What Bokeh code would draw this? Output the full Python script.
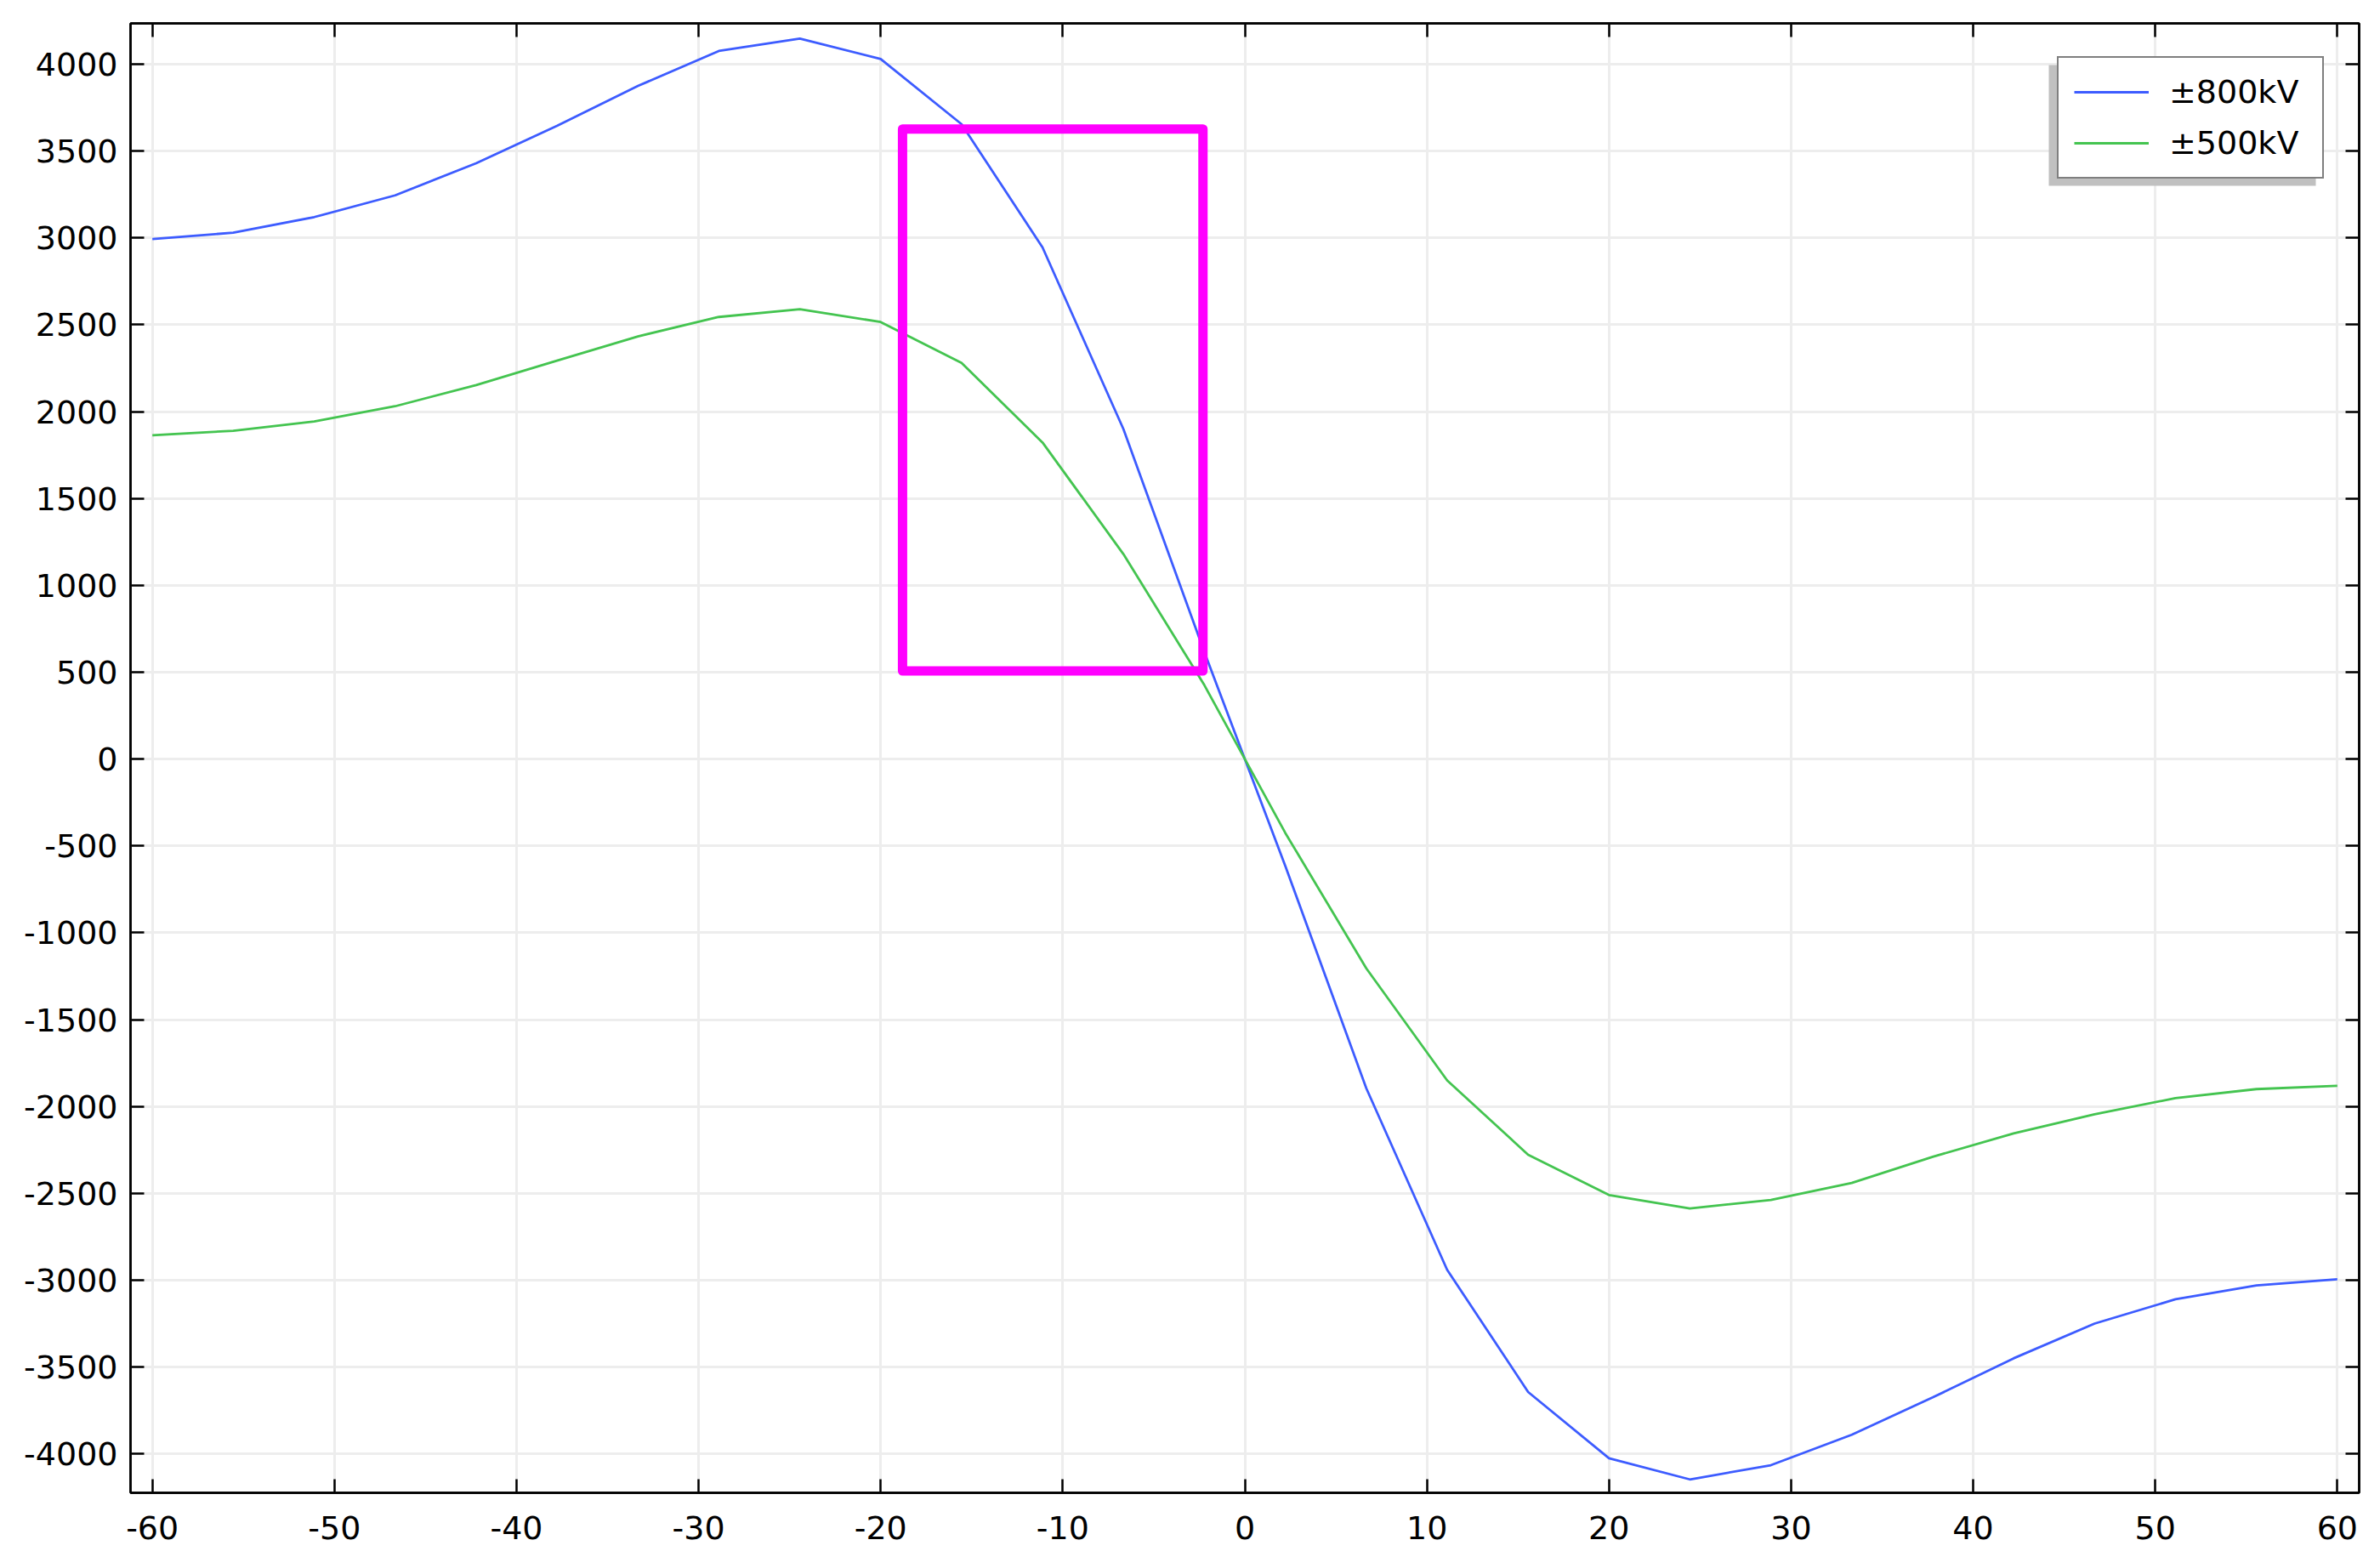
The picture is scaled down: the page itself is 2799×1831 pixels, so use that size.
from bokeh.plotting import figure
from bokeh.models import Range1d, FixedTicker, LinearAxis, Legend, LegendItem, BoxAnnotation
from bokeh.embed import file_html
from bokeh.resources import INLINE

# ---- data ----
x_pos = [-60, -55.56, -51.11, -46.67, -42.22, -37.78, -33.33, -28.89, -24.44, -20,
         -15.56, -11.11, -6.67, -2.22, 2.22, 6.67, 11.11, 15.56, 20, 24.44,
         28.89, 33.33, 37.78, 42.22, 46.67, 51.11, 55.56, 60]
kv800 = [2993, 3030, 3120, 3245, 3430, 3645, 3875, 4076, 4148, 4030,
         3655, 2945, 1900, 615, -615, -1895, -2940, -3644, -4025, -4147,
         -4065, -3890, -3675, -3450, -3250, -3110, -3030, -2995]
kv500 = [1864, 1890, 1943, 2031, 2153, 2293, 2433, 2545, 2590, 2516,
         2280, 1822, 1180, 425, -425, -1205, -1850, -2278, -2510, -2587,
         -2538, -2440, -2290, -2155, -2045, -1952, -1900, -1881]
series_names = ["±800kV", "±500kV"]
x_ticks = [-60, -50, -40, -30, -20, -10, 0, 10, 20, 30, 40, 50, 60]
y_ticks = [-4000, -3500, -3000, -2500, -2000, -1500, -1000, -500, 0,
           500, 1000, 1500, 2000, 2500, 3000, 3500, 4000]
highlight_x = [-18.8, -2.3]
highlight_y = [507, 3627]

# ---- layout ----
X0, X1 = -61.2, 61.2
Y0, Y1 = -4224, 4235
FONT = "DejaVu Sans"
BLUE = "#3d5cff"
GREEN = "#44c450"
GRID = "#ededed"

p = figure(width=2799, height=1831, x_range=Range1d(X0, X1), y_range=Range1d(Y0, Y1),
           output_backend="svg", toolbar_location=None,
           min_border_left=153, min_border_right=25, min_border_top=27, min_border_bottom=76)
p.background_fill_color = "white"
p.border_fill_color = "white"
p.outline_line_color = "black"
p.outline_line_width = 2.5

for ax in (p.xaxis[0], p.yaxis[0]):
    ax.major_tick_in = 16
    ax.major_tick_out = 0
    ax.minor_tick_line_color = None
    ax.major_tick_line_width = 2.5
    ax.major_tick_line_color = "black"
    ax.axis_line_width = 2.5
    ax.axis_line_color = "black"
    ax.major_label_text_font = FONT
    ax.major_label_text_font_size = "38px"
    ax.major_label_text_color = "black"
p.xaxis[0].ticker = FixedTicker(ticks=x_ticks)
p.yaxis[0].ticker = FixedTicker(ticks=y_ticks)
p.xaxis[0].major_label_overrides = {t: str(t) for t in x_ticks}
p.yaxis[0].major_label_overrides = {t: str(t) for t in y_ticks}
p.xaxis[0].major_label_standoff = 27
p.yaxis[0].major_label_standoff = 15

top = LinearAxis(ticker=FixedTicker(ticks=x_ticks),
                 major_label_overrides={t: "" for t in x_ticks})
right = LinearAxis(ticker=FixedTicker(ticks=y_ticks),
                   major_label_overrides={t: "" for t in y_ticks})
for ax in (top, right):
    ax.major_tick_in = 16
    ax.major_tick_out = 0
    ax.minor_tick_line_color = None
    ax.major_tick_line_width = 2.5
    ax.major_tick_line_color = "black"
    ax.axis_line_width = 2.5
    ax.axis_line_color = "black"
    ax.major_label_standoff = 0
    ax.major_label_text_font_size = "10px"
p.add_layout(top, "above")
p.add_layout(right, "right")

p.xgrid.ticker = FixedTicker(ticks=x_ticks)
p.ygrid.ticker = FixedTicker(ticks=y_ticks)
for g in (p.xgrid[0], p.ygrid[0]):
    g.grid_line_color = GRID
    g.grid_line_width = 3

r1 = p.line(x_pos, kv800, line_color=BLUE, line_width=2.8)
r2 = p.line(x_pos, kv500, line_color=GREEN, line_width=2.8)

p.quad(left=[highlight_x[0]], right=[highlight_x[1]], bottom=[highlight_y[0]], top=[highlight_y[1]],
       fill_color=None, line_color="#ff00ff", line_width=11, line_join="round")

# legend shadow (decoration) placed in pixel space converted to data units
FRAME_L, FRAME_T, FRAME_W, FRAME_H = 153, 27, 2621, 1728
def px_x(px):
    return X0 + (px - FRAME_L) * (X1 - X0) / FRAME_W
def px_y(py):
    return Y1 - (py - FRAME_T) * (Y1 - Y0) / FRAME_H
shadow = BoxAnnotation(left=px_x(2409), right=px_x(2723), top=px_y(76), bottom=px_y(218),
                       fill_color="#c0c0c0", fill_alpha=1.0, line_color=None)
p.add_layout(shadow)

legend = Legend(items=[LegendItem(label=series_names[0], renderers=[r1]),
                       LegendItem(label=series_names[1], renderers=[r2])],
                location=(2266, 1545), margin=0, padding=18, spacing=16,
                glyph_width=88, glyph_height=40, label_standoff=24, label_width=162, label_height=40,
                label_text_font=FONT, label_text_font_size="38px", label_text_color="black",
                border_line_color="black", border_line_width=2.5,
                background_fill_color="white", background_fill_alpha=1.0)
p.add_layout(legend, "center")

open("out.html", "w").write(file_html(p, INLINE))
